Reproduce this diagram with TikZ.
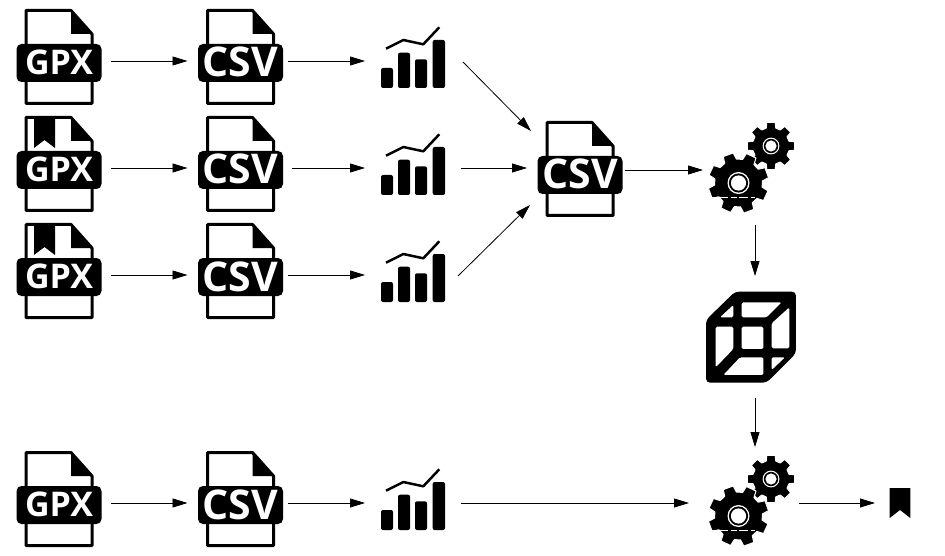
\documentclass[tikz,border=0pt]{standalone}
\usepackage{fontspec}
\setmainfont{Open Sans}
\usetikzlibrary{arrows.meta}
\tikzset{
  conn/.style={draw=black,line width=0.8pt,-{Triangle[length=15pt,width=9pt]}},
  anchorbox/.style={inner sep=0pt,outer sep=0pt,minimum height=60pt},
  gpxbox/.style={anchorbox,minimum width=104pt},
  csvbox/.style={anchorbox,minimum width=106pt},
  chartbox/.style={anchorbox,minimum width=96pt},
  fileline/.style={draw=black,line width=3pt,line join=round,fill=white},
  hole/.style={fill=white,rounded corners=1.5pt},
  iconlabel/.style={text=white,anchor=base,inner sep=0pt},
  pics/page/.style={code={
    \draw[fileline] (-33,-50.5) -- (12,-50.5) -- (33,-27) -- (33,42.5) -- (-33,42.5) -- cycle;
    \fill[black] (12,-51) -- (34,-27) -- (12,-27) -- cycle;
  }},
  pics/strip/.style={code={
    \fill[black,rounded corners=5pt] (-42.5,-17) rectangle (42.5,21);
  }},
  pics/gpxicon/.style={code={
    \pic {page};
    \pic {strip};
    \node[iconlabel,font=\fontsize{34}{34}\selectfont\bfseries] at (0,13.5) {GPX};
  }},
  pics/gpxmark/.style={code={
    \pic {page};
    \fill[black] (-25,-50) -- (-25,-20) -- (-14.5,-28) -- (-4,-20) -- (-4,-50) -- cycle;
    \pic {strip};
    \node[iconlabel,font=\fontsize{34}{34}\selectfont\bfseries] at (0,13.5) {GPX};
  }},
  pics/csvicon/.style={code={
    \pic {page};
    \pic {strip};
    \node[iconlabel,font=\fontsize{41}{41}\selectfont\bfseries] at (0,16) {CSV};
  }},
  pics/charticon/.style={code={
    \fill[black,rounded corners=2pt] (-32,7) rectangle (-20,27);
    \fill[black,rounded corners=2pt] (-15,-8.3) rectangle (-3,27);
    \fill[black,rounded corners=2pt] (2,-1.7) rectangle (14,27);
    \fill[black,rounded corners=2pt] (19.7,-21) rectangle (32,27);
    \draw[black,line width=2.5pt,line join=round] (-27,-12.3) -- (-9.7,-21) -- (10.3,-16.7) -- (26.3,-33.7);
  }},
  pics/cogwheel/.style n args={5}{code={%
    \begin{scope}[shift={(#1,#2)},rotate=#5]
      \fill[black,draw=white,line width=1pt,line join=round] (-15:#4)
        \foreach \a in {0,45,...,315}{
          -- ({\a-15}:#4) -- ({\a-10}:#3) -- ({\a+10}:#3) -- ({\a+15}:#4)
        } -- cycle;
    \end{scope}
  }},
  pics/gearsicon/.style={code={
    \pic {cogwheel={16}{-24}{24}{18.5}{0}};
    \fill[white] (16,-24) circle[radius=8.4];
    \fill[black] (16,-24) circle[radius=7.2];
    \fill[white] (16,-24) circle[radius=5.6];
    \pic {cogwheel={-16.5}{13}{30.5}{24}{20}};
    \fill[white] (-16.5,13) circle[radius=11];
    \fill[black] (-16.5,13) circle[radius=9.6];
    \fill[white] (-16.5,13) circle[radius=7.6];
    \draw[white,line width=1.6pt,dash pattern=on 6pt off 2pt on 9pt off 3pt] (-44,27.5) -- (0,27.5);
  }},
  pics/cubeicon/.style={code={
    \begin{scope}[scale=0.3333]
      \fill[black,rounded corners=4pt] (135,35) -- (318,35) -- (318,220) -- (230,308) -- (48,308) -- (48,120) -- cycle;
      \fill[hole] (90,112) -- (130,75) -- (130,112) -- cycle;
      \fill[hole] (155,67) -- (275,67) -- (230,112) -- (155,112) -- cycle;
      \fill[hole] (245,130) -- (298,82) -- (298,205) -- (245,205) -- cycle;
      \fill[hole] (77,140) -- (130,140) -- (130,207) -- (77,262) -- cycle;
      \fill[hole] (155,140) -- (220,140) -- (220,207) -- (155,207) -- cycle;
      \fill[hole] (100,285) -- (150,232) -- (220,232) -- (220,285) -- cycle;
      \fill[hole] (245,232) -- (285,232) -- (245,270) -- cycle;
    \end{scope}
  }},
  pics/markicon/.style={code={
    \fill[black] (-10.3,-15) -- (10.3,-15) -- (10.3,15) -- (0,7) -- (-10.3,15) -- cycle;
  }},
}
\begin{document}
\begin{tikzpicture}[x=1pt,y=-1pt]
\useasboundingbox (0,0) rectangle (945,556);
\fill[white] (0,0) rectangle (945,556);
% row 1
\node[gpxbox] (g1) at (59,61) {};    \pic at (g1) {gpxicon};
\node[csvbox] (c1) at (240.5,61) {}; \pic at (c1) {csvicon};
\node[chartbox] (s1) at (413,61) {}; \pic at (s1) {charticon};
% row 2
\node[gpxbox] (g2) at (59,168) {};    \pic at (g2) {gpxmark};
\node[csvbox] (c2) at (240.5,168) {}; \pic at (c2) {csvicon};
\node[chartbox] (s2) at (413,168) {}; \pic at (s2) {charticon};
% row 3
\node[gpxbox] (g3) at (59,275) {};    \pic at (g3) {gpxmark};
\node[csvbox] (c3) at (240.5,275) {}; \pic at (c3) {csvicon};
\node[chartbox] (s3) at (413,275) {}; \pic at (s3) {charticon};
% row 4
\node[gpxbox] (g4) at (59,503) {};    \pic at (g4) {gpxicon};
\node[csvbox] (c4) at (240.5,503) {}; \pic at (c4) {csvicon};
\node[chartbox] (s4) at (413,503) {}; \pic at (s4) {charticon};
% merged file
\node[csvbox] (m) at (580,173) {}; \pic at (m) {csvicon};
% gears, cube, result
\node[anchorbox,minimum width=104pt,minimum height=110pt] (w1) at (755,170) {}; \pic at (w1) {gearsicon};
\node[anchorbox,minimum width=110pt,minimum height=112pt] (w2) at (744,503) {}; \pic at (755,503) {gearsicon};
\node[anchorbox,minimum width=92pt,minimum height=122pt] (q) at (755,337) {}; \pic at (690,280) {cubeicon};
\node[anchorbox,minimum width=50pt,minimum height=30pt] (b) at (900,503) {}; \pic at (b) {markicon};
% free connector ends
\coordinate (s1o) at (463,62);
\coordinate (s3o) at (458,276);
\coordinate (mn) at (531,131);
\coordinate (ms) at (530,205);
\coordinate (mw) at (527,168);
\coordinate (me) at (625,170);
% connectors
\draw[conn] (g1) -- (c1);
\draw[conn] (g2) -- (c2);
\draw[conn] (g3) -- (c3);
\draw[conn] (g4) -- (c4);
\draw[conn,shorten <=-5.5pt] (c1) -- (s1);
\draw[conn,shorten <=-1.5pt] (c2) -- (s2);
\draw[conn,shorten <=-5.5pt] (c3) -- (s3);
\draw[conn,shorten <=-5.5pt] (c4) -- (s4);
\draw[conn] (s1o) -- (mn);
\draw[conn] (s2) -- (mw);
\draw[conn] (s3o) -- (ms);
\draw[conn] (me) -- (w1);
\draw[conn] (w1) -- (q);
\draw[conn] (q.south) -- (q.south |- w2.north);
\draw[conn] (s4) -- (w2);
\draw[conn] (w2) -- (b);
\end{tikzpicture}
\end{document}
